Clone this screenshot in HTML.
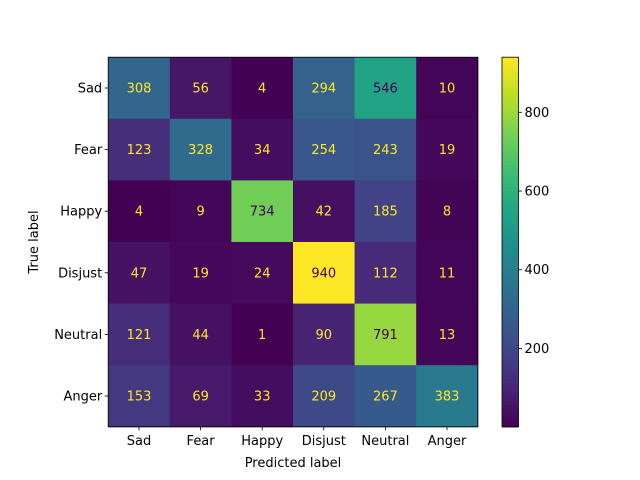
<!DOCTYPE html>
<html><head><meta charset="utf-8"><style>
body{margin:0;background:#fff}
svg{display:block;font-family:"DejaVu Sans","Liberation Sans",sans-serif}
</style></head><body>
<svg id="c" width="640" height="480"></svg>
<script>
const labels=["Sad","Fear","Happy","Disjust","Neutral","Anger"];
const row0=[308,56,4,294,546,10];
const row1=[123,328,34,254,243,19];
const row2=[4,9,734,42,185,8];
const row3=[47,19,24,940,112,11];
const row4=[121,44,1,90,791,13];
const row5=[153,69,33,209,267,383];
const matrix=[row0,row1,row2,row3,row4,row5];
const cbTicks=[200,400,600,800];
const stops=["#440154","#482475","#414487","#355f8d","#2a788e","#21918c","#22a884","#44bf70","#7ad151","#bddf26","#fde725"];
const NS="http://www.w3.org/2000/svg";
const svg=document.getElementById('c');
function hx(h){return [1,3,5].map(i=>parseInt(h.substr(i,2),16));}
function cmap(t){t=Math.max(0,Math.min(1,t));const p=t*10,i=Math.min(9,Math.floor(p)),f=p-i;const a=hx(stops[i]),b=hx(stops[i+1]);return `rgb(${a.map((v,k)=>Math.round(v+(b[k]-v)*f)).join(',')})`;}
function mk(tag,at,txt){const e=document.createElementNS(NS,tag);for(const k in at)e.setAttribute(k,at[k]);if(txt!==undefined)e.textContent=txt;svg.appendChild(e);return e;}
const all=matrix.flat();const vmin=Math.min(...all),vmax=Math.max(...all);
const L=108.2,T=57.2,S=369.6,n=labels.length,cw=S/n;
const xs=i=>L+i*cw, ys=j=>T+j*cw;
const norm=v=>(v-vmin)/(vmax-vmin);
matrix.forEach((r,j)=>r.forEach((v,i)=>{
 const c=mk('rect',{x:xs(i),y:ys(j),width:cw+0.5,height:cw+0.5,fill:cmap(norm(v))});
 
 
}));
matrix.forEach((r,j)=>r.forEach((v,i)=>{
 const t=mk('text',{x:xs(i)+cw/2,y:ys(j)+cw/2+4.5,'text-anchor':'middle','font-size':'13',fill:v>(vmin+vmax)/2?stops[0]:stops[10]},v);
 
 
}));
mk('rect',{x:L,y:T,width:S,height:S,fill:'none',stroke:'#000','stroke-width':0.8});
labels.forEach((l,i)=>{
 mk('line',{x1:xs(i)+cw/2,x2:xs(i)+cw/2,y1:T+S,y2:T+S+3.5,stroke:'#000','stroke-width':0.8});
 const t=mk('text',{x:xs(i)+cw/2,y:T+S+18,'text-anchor':'middle','font-size':'13'},l);
 
 
 mk('line',{x1:L-3.5,x2:L,y1:ys(i)+cw/2,y2:ys(i)+cw/2,stroke:'#000','stroke-width':0.8});
 const u=mk('text',{x:L-6,y:ys(i)+cw/2+4.5,'text-anchor':'end','font-size':'13'},l);
 
 
});
const xt=mk('text',{x:L+S/2,y:467,'text-anchor':'middle','font-size':'13'},'Predicted label');

const yt=mk('text',{x:0,y:0,'text-anchor':'middle','font-size':'13',transform:`translate(38,${T+S/2}) rotate(-90)`},'True label');

// colorbar
const CX=502,CW=16.5,N=100;
for(let k=0;k<N;k++){const r=mk('rect',{x:CX,y:T+S-(k+1)*S/N,width:CW,height:S/N+0.6,fill:cmap((k+0.5)/N)});
 }
mk('rect',{x:CX,y:T,width:CW,height:S,fill:'none',stroke:'#000','stroke-width':0.8});
const cy=v=>T+S-norm(v)*S;
cbTicks.forEach(v=>{
 mk('line',{x1:CX+CW,x2:CX+CW+3.5,y1:cy(v),y2:cy(v),stroke:'#000','stroke-width':0.8});
 const t=mk('text',{x:CX+CW+6,y:cy(v)+4.5,'font-size':'13'},v);
 
});
</script>
</body></html>
